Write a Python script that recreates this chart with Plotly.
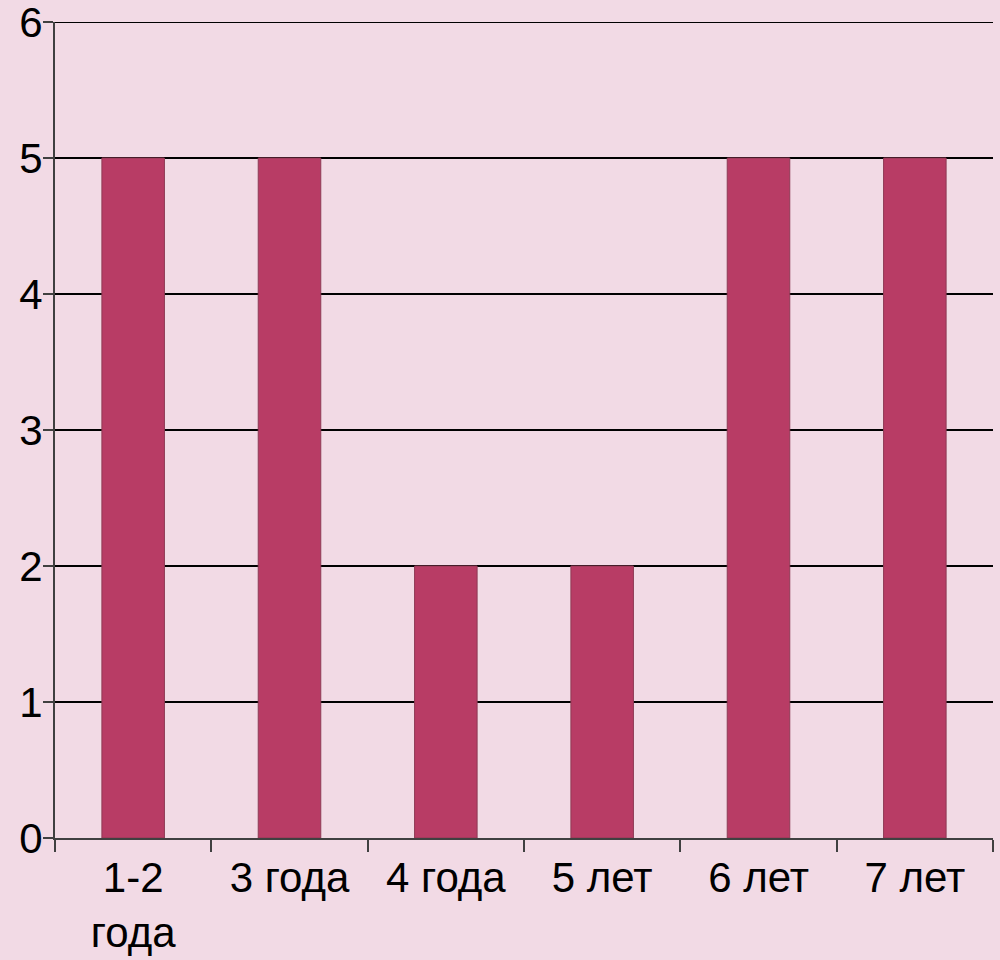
import plotly.graph_objects as go

categories = ["1-2<br>года", "3 года", "4 года", "5 лет", "6 лет", "7 лет"]
values = [5, 5, 2, 2, 5, 5]
y_ticks = [0, 1, 2, 3, 4, 5, 6]

bg = "#F2DAE5"
fig = go.Figure(go.Bar(
    x=categories, y=values,
    marker=dict(color="#B83C65", line=dict(color="#8E3A55", width=1)),
))
fig.update_layout(
    width=1000, height=960,
    margin=dict(l=55, r=7, t=22, b=122),
    paper_bgcolor=bg, plot_bgcolor=bg,
    bargap=0.6,
    showlegend=False,
    font=dict(family="Liberation Sans, Arial, sans-serif", size=42, color="#000000"),
)
fig.update_xaxes(
    type="category", tickson="boundaries", ticks="outside", ticklen=12,
    tickcolor="#404040", tickwidth=2, showline=True, linecolor="#404040", linewidth=2,
    showgrid=False, tickfont=dict(size=42), automargin=False,
    ticklabeloverflow="allow", ticklabelstandoff=2,
)
fig.update_yaxes(
    range=[0, 6], tickvals=y_ticks, ticks="outside", ticklen=10, tickcolor="#404040",
    tickwidth=2, showline=True, linecolor="#404040", linewidth=2,
    showgrid=True, gridcolor="#000000", gridwidth=2, zeroline=False,
    tickfont=dict(size=42), automargin=False, ticklabeloverflow="allow",
    ticklabelstandoff=-8,
)
fig.add_shape(type="line", xref="paper", yref="y", x0=0, x1=1,
              y0=y_ticks[-1], y1=y_ticks[-1], line=dict(color="#000000", width=2))
fig.write_html(
    "out.html",
    config={"displayModeBar": False},
    post_script="document.body.style.margin='0';document.body.style.overflow='hidden';"
                "document.body.style.background='" + bg + "';",
)
